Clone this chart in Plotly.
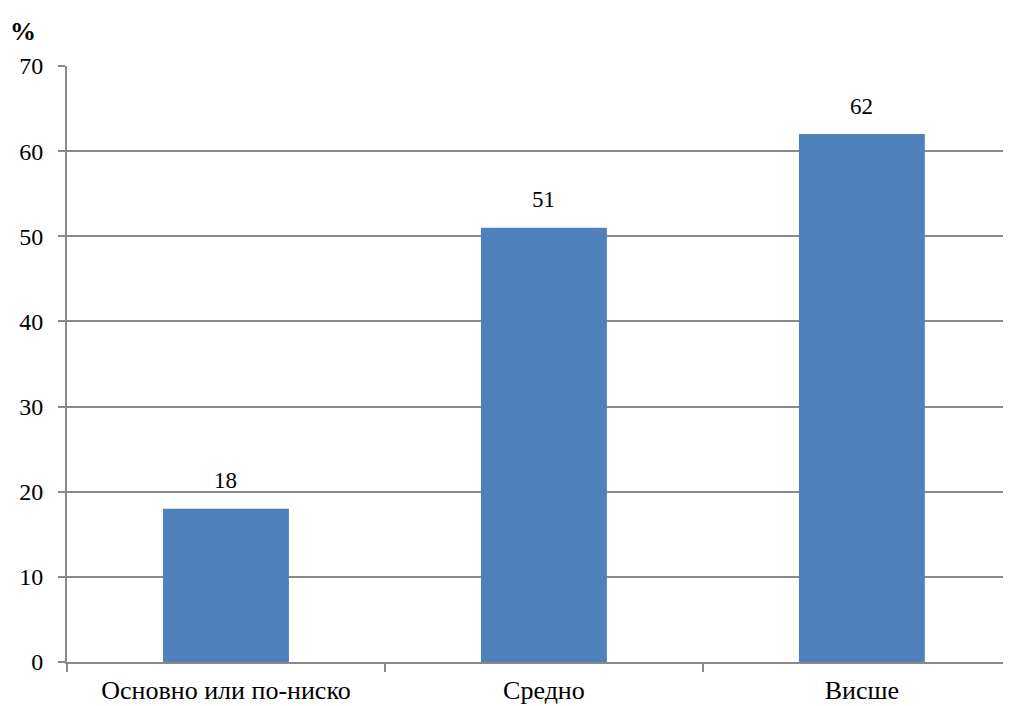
import plotly.graph_objects as go

categories = ["Основно или по-ниско", "Средно", "Висше"]
values = [18, 51, 62]
y_ticks = [0, 10, 20, 30, 40, 50, 60, 70]

font_family = "'Liberation Serif', Tinos, 'Times New Roman', 'DejaVu Serif', serif"
grid_col = "#8a8a8a"

fig = go.Figure(
    go.Bar(
        x=categories,
        y=values,
        marker=dict(color="#4f81bd", line=dict(width=0)),
        cliponaxis=False,
        hoverinfo="skip",
    )
)

annotations = [
    dict(
        x=c,
        y=v,
        xref="x",
        yref="y",
        text=str(v),
        showarrow=False,
        yanchor="middle",
        yshift=28,
        font=dict(family=font_family, size=23, color="#000000"),
    )
    for c, v in zip(categories, values)
]
annotations.append(
    dict(
        text="<b>%</b>",
        xref="paper",
        yref="paper",
        x=-0.062,
        y=1.058,
        xanchor="left",
        yanchor="middle",
        showarrow=False,
        font=dict(family=font_family, size=26, color="#000000"),
    )
)

fig.update_layout(
    width=1003,
    height=698,
    margin=dict(l=59, r=0, t=58, b=44),
    paper_bgcolor="white",
    plot_bgcolor="white",
    bargap=0.604,
    showlegend=False,
    font=dict(family=font_family, size=22, color="#000000"),
    annotations=annotations,
)

fig.update_xaxes(
    type="category",
    range=[-0.5, 2.469],
    showline=True,
    linecolor=grid_col,
    linewidth=2,
    ticks="outside",
    tickson="boundaries",
    ticklen=8,
    tickcolor=grid_col,
    tickwidth=1.5,
    ticklabelstandoff=4,
    showgrid=False,
    tickfont=dict(family=font_family, size=26, color="#000000"),
)

fig.update_yaxes(
    range=[0, 70],
    tickvals=y_ticks,
    showline=True,
    linecolor=grid_col,
    linewidth=2,
    ticks="outside",
    ticklen=7,
    tickcolor=grid_col,
    tickwidth=1.5,
    ticklabelstandoff=10,
    showgrid=True,
    gridcolor=grid_col,
    gridwidth=1.5,
    zeroline=False,
    tickfont=dict(family=font_family, size=24, color="#000000"),
)

fig.write_html("out.html")
